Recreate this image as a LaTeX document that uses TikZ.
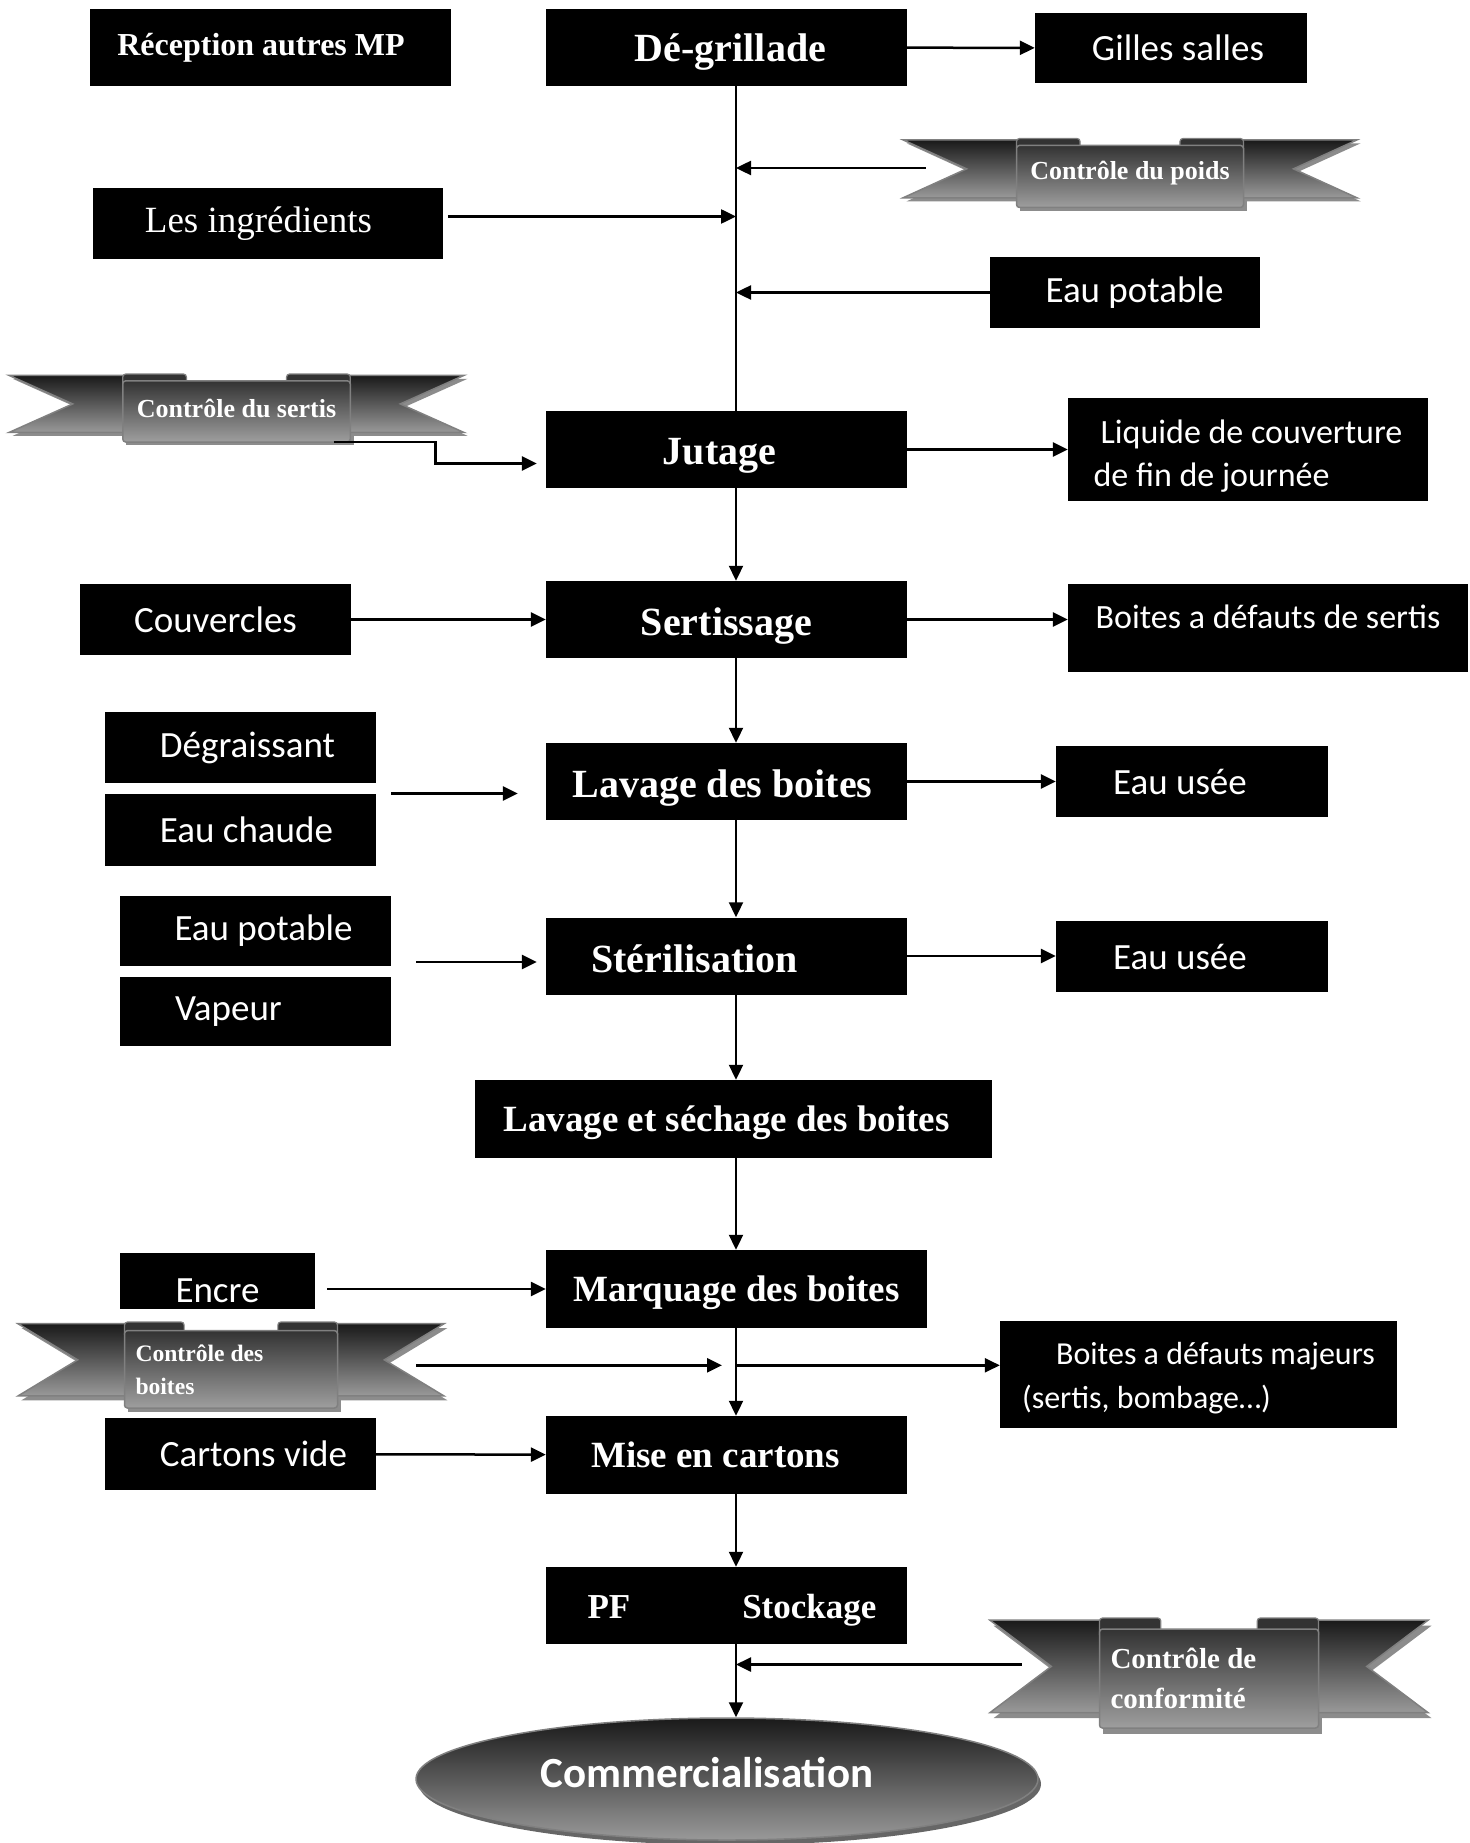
\documentclass[tikz,border=0pt]{standalone}
\usepackage{fontspec}
\setmainfont{Liberation Serif}
\newfontfamily\calibri{Carlito}
\usepackage{tikz}
\usetikzlibrary{arrows.meta, calc, shapes.geometric}
\definecolor{ruban-fonce}{gray}{0.1}
\definecolor{ruban-clair}{gray}{0.6}
\definecolor{ruban-bord}{gray}{0.5}
\definecolor{ruban-ombre}{gray}{0.55}

\newcommand\lignes[2][0pt]{\raisebox{-#1}[\height][\depth]{\begin{tabular}{@{}l@{}}#2\end{tabular}}}

\tikzset{
  espaces/.style={execute at begin node={\spaceskip=0pt\relax\xspaceskip=0pt\relax}},
  etape/.style={espaces, fill=black, text=white, font=\fontsize{40}{44}\selectfont\bfseries, minimum width=361pt, minimum height=77pt, inner sep=0pt, text height=31pt, text depth=0pt},
  etapebas/.style={etape, font=\fontsize{37}{44}\selectfont\bfseries, minimum height=78pt, text height=25pt},
  entree/.style={espaces, fill=black, text=white, font=\calibri\fontsize{37}{44}\selectfont, minimum height=71pt, inner sep=0pt},
  fleche/.style={line width=2.5pt, -{Triangle[length=15pt,width=14pt]}},
  principal/.style={line width=2pt, -{Triangle[length=15pt,width=14pt]}},
  rubantexte/.style={espaces, text=white, font=\fontsize{26}{33}\selectfont\bfseries, inner sep=0pt},
}

\newcommand\ruban[7]{%
  \begin{scope}[shift={(#2-#4/2,#3-#5/2)}, x=#4pt, y=-#5pt]
    \begin{scope}[shift={(0.008,0.05)}]
      \fill[ruban-ombre] (0,0.02) -- (0.3,0.02) -- (0.3,0.86) -- (0,0.86) -- (0.14,0.44) -- cycle;
      \fill[ruban-ombre] (1,0.02) -- (0.7,0.02) -- (0.7,0.86) -- (1,0.86) -- (0.86,0.44) -- cycle;
      \fill[ruban-ombre] (0.25,0.1) rectangle (0.75,1);
    \end{scope}
    \draw[ruban-bord, line width=1.5pt, top color=ruban-fonce, bottom color=ruban-clair] (0,0.02) -- (0.3,0.02) -- (0.3,0.86) -- (0,0.86) -- (0.14,0.44) -- cycle;
    \draw[ruban-bord, line width=1.5pt, top color=ruban-fonce, bottom color=ruban-clair] (1,0.02) -- (0.7,0.02) -- (0.7,0.86) -- (1,0.86) -- (0.86,0.44) -- cycle;
    \draw[ruban-bord, line width=1.2pt, fill=black!80, rounded corners=3pt] (0.25,0) rectangle (0.39,0.18);
    \draw[ruban-bord, line width=1.2pt, fill=black!80, rounded corners=3pt] (0.61,0) rectangle (0.75,0.18);
    \draw[ruban-bord, line width=1.5pt, top color=black!80, bottom color=black!38, rounded corners=3pt] (0.25,0.1) rectangle (0.75,1);
  \end{scope}
  \node[rubantexte, minimum width=#4pt, minimum height=#5pt, #6] (#1) at (#2,#3) {#7};
}

\begin{document}
\begin{tikzpicture}[x=1pt, y=-1pt]
\useasboundingbox (0,0) rectangle (1469,1843);
\coordinate (ligne) at (736,0);

\node[etape, font=\fontsize{32}{38}\selectfont\bfseries, text height=17pt] (recep) at (270.5,47.5) {Réception autres MP\kern19pt};
\node[etape, text height=29pt] (degrill) at (726.5,47.5) {\kern8pt Dé-grillade};
\node[entree, minimum width=272pt, minimum height=70pt] (gilles) at (1171,48) {\kern14pt Gilles salles};
\ruban{cpoids}{1130}{173}{454}{69}{align=center}{Contrôle du poids}
\node[entree, minimum width=350pt, font=\fontsize{37}{44}\selectfont] (ingred) at (268,223.5) {Les ingrédients\kern19pt};
\node[entree, minimum width=270pt] (eaupot1) at (1125,292.5) {\kern19pt Eau potable};
\ruban{csertis}{236.5}{408}{455}{68}{align=center}{Contrôle du sertis}
\node[etape, text height=29pt] (jutage) at (726.5,449.5) {Jutage\kern14pt};
\node[entree, minimum width=360pt, minimum height=103pt, font=\calibri\fontsize{34}{43}\selectfont] (liquide) at (1248,449.5) {\lignes[7pt]{\kern7pt Liquide de couverture\\de fin de journée}};
\node[entree, minimum width=271pt] (couvercles) at (215.5,619.5) {Couvercles};
\node[etape] (sertis) at (726.5,619.5) {Sertissage};
\node[entree, minimum width=400pt, minimum height=88pt, text height=12pt, text depth=12pt, font=\calibri\fontsize{34}{43}\selectfont] (defsertis) at (1268,628) {Boites a défauts de sertis};
\node[entree, minimum width=271pt] (degraiss) at (240.5,747.5) {\kern14pt Dégraissant};
\node[entree, minimum width=271pt, minimum height=72pt] (eauchaude) at (240.5,830) {\kern12pt Eau chaude};
\node[etape] (lavage) at (726.5,781.5) {Lavage des boites\kern8pt};
\node[entree, minimum width=272pt] (eauusee1) at (1192,781.5) {Eau usée\kern24pt};
\node[entree, minimum width=271pt, minimum height=70pt] (eaupot2) at (255.5,931) {\kern16pt Eau potable};
\node[entree, minimum width=271pt, minimum height=69pt, text width=161pt, align=left] (vapeur) at (255.5,1011.5) {Vapeur};
\node[etape, text height=33pt, text width=271pt, align=left] (steril) at (726.5,956) {Stérilisation};
\node[entree, minimum width=272pt] (eauusee2) at (1192,956.5) {Eau usée\kern24pt};
\node[etapebas, minimum width=517pt] (lavsech) at (733.5,1119) {Lavage et séchage des boites\kern14pt};
\node[entree, minimum width=195pt, minimum height=56pt, text height=42pt, text depth=0pt] (encre) at (217.5,1281) {Encre};
\node[etapebas, minimum width=381pt] (marquage) at (736.5,1289) {Marquage des boites};
\ruban{cboites}{231}{1365}{426}{86}{yshift=-4.3pt, text width=191pt, align=left, font=\fontsize{23.6}{33}\selectfont\bfseries}{Contrôle des\\boites}
\node[entree, minimum width=397pt, minimum height=107pt, font=\calibri\fontsize{32}{44}\selectfont] (defmaj) at (1198.5,1374.5) {\lignes[3.5pt]{\kern34pt Boites a défauts majeurs\\(sertis, bombage…)}};
\node[entree, minimum width=271pt, minimum height=72pt] (cartvide) at (240.5,1454) {\kern26pt Cartons vide};
\node[etapebas] (cartons) at (726.5,1455) {Mise en cartons\kern22pt};
\node[etapebas, minimum height=77pt, text width=278pt, align=left, font=\fontsize{35}{42}\selectfont\bfseries] (stockage) at (726.5,1605.5) {\mbox{PF\hspace{112pt}Stockage}};
\ruban{cconf}{1209}{1673}{438}{110}{yshift=-5.5pt, text width=197pt, align=left, font=\fontsize{29}{40}\selectfont\bfseries}{Contrôle de\\conformité}
\fill[black!60] (730,1784) ellipse [x radius=311pt, y radius=61pt];
\node[ellipse, minimum width=622pt, minimum height=122pt, inner sep=0pt, draw=black!50, line width=1.5pt, top color=black!90, bottom color=black!40, text=white, text height=32pt, text depth=16pt, font=\calibri\bfseries\fontsize{43}{48}\selectfont] (commerc) at (727,1779) {Commercialisation\kern40pt};

\draw[principal, -] (degrill.south -| ligne) -- (jutage.north -| ligne);
\draw[principal] (jutage.south -| ligne) -- (sertis.north -| ligne);
\draw[principal] (sertis.south -| ligne) -- (lavage.north -| ligne);
\draw[principal] (lavage.south -| ligne) -- (steril.north -| ligne);
\draw[principal] (steril.south -| ligne) -- (lavsech.north -| ligne);
\draw[principal] (lavsech.south -| ligne) -- (marquage.north -| ligne);
\draw[principal] (marquage.south -| ligne) -- (cartons.north -| ligne);
\draw[principal] (cartons.south -| ligne) -- (stockage.north -| ligne);
\draw[principal] (stockage.south -| ligne) -- (commerc.north -| ligne);

\draw[fleche] (degrill) -- (gilles);
\draw[fleche] ([shift={(23pt,5pt)}]cpoids.west) -- ([yshift=5pt]cpoids.west -| ligne);
\draw[fleche] ([shift={(5pt,7pt)}]ingred.east) -- ([yshift=7pt]ingred.east -| ligne);
\draw[fleche] (eaupot1.west) -- (eaupot1.west -| ligne);
\draw[fleche] ([xshift=97pt]csertis.south) -- ++(102,0) |- ([shift={(-9pt,-14pt)}]jutage.west);
\draw[fleche] (jutage.east) -- (liquide.west);
\draw[fleche] (couvercles) -- (sertis);
\draw[fleche] (sertis.east) -- (sertis.east -| defsertis.west);
\draw[fleche] ([shift={(15pt,-12pt)}]degraiss.east |- lavage.west) -- ([shift={(-28pt,-12pt)}]lavage.west);
\draw[fleche] (lavage.east) -- (lavage.east -| eauusee1.west);
\draw[fleche] ([shift={(25pt,-6pt)}]eaupot2.east |- steril.west) -- ([shift={(-9pt,-6pt)}]steril.west);
\draw[fleche] (steril.east) -- (steril.east -| eauusee2.west);
\draw[fleche] ([xshift=12pt]encre.east |- marquage.west) -- (marquage.west);
\draw[fleche] ([shift={(-28pt,4pt)}]cboites.east) -- ([shift={(-14pt,4pt)}]cboites.east -| ligne);
\draw[fleche] ([yshift=4pt]cboites.east -| ligne) -- ([yshift=4pt]cboites.east -| defmaj.west);
\draw[fleche] (cartvide) -- (cartons);
\draw[fleche] ([shift={(32pt,14pt)}]cconf.west) -- ([yshift=14pt]cconf.west -| ligne);
\end{tikzpicture}
\end{document}
